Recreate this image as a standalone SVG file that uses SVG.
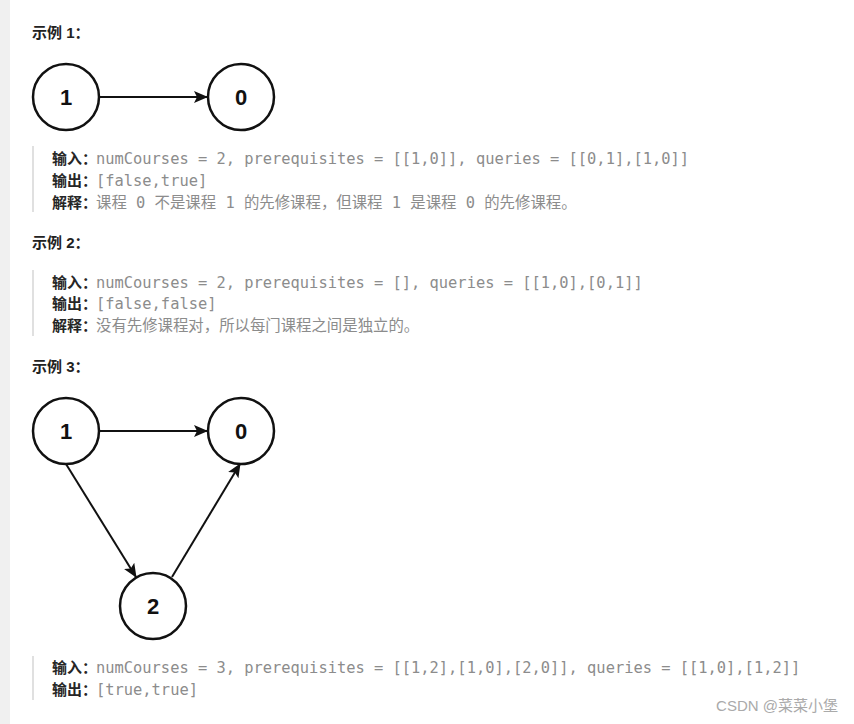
<svg xmlns="http://www.w3.org/2000/svg" width="854" height="724" viewBox="0 0 854 724">
<style>
.h{font:bold 15px "Liberation Sans","Noto Sans CJK SC",sans-serif;fill:#222}
.l{font:bold 15px "Liberation Sans","Noto Sans CJK SC",sans-serif;fill:#262626}
.m{font:15.4px "DejaVu Sans Mono","Noto Sans CJK SC",monospace;fill:#8c8c8c}
.n circle{fill:#fff;stroke:#111;stroke-width:2.5}
.n text{font:bold 22px "Liberation Sans",sans-serif;fill:#111;text-anchor:middle}
.bar{fill:#e0e0e0}
.e{stroke:#111;stroke-width:2;fill:none;marker-end:url(#a)}
</style>
<defs><marker id="a" markerWidth="14" markerHeight="12" refX="13" refY="6" orient="auto" markerUnits="userSpaceOnUse"><path d="M0,0 L14,6 L0,12 L3,6 Z" fill="#111"/></marker></defs>
<rect width="854" height="724" fill="#fff"/>
<rect x="0" y="0" width="10" height="724" fill="#f0f0f0"/>
<text class="h" x="32" y="38">示例 1：</text>
<g id="n1a" class="n"><circle cx="66" cy="97" r="33"/><text x="66" y="105">1</text></g>
<g id="n0a" class="n"><circle cx="241" cy="97" r="33"/><text x="241" y="105">0</text></g>
<rect class="bar" x="32" y="146" width="2" height="66"/>
<text x="52" y="164"><tspan class="l">输入：</tspan><tspan class="m" x="96">numCourses = 2, prerequisites = [[1,0]], queries = [[0,1],[1,0]]</tspan></text>
<text x="52" y="186"><tspan class="l">输出：</tspan><tspan class="m" x="96">[false,true]</tspan></text>
<text x="52" y="208"><tspan class="l">解释：</tspan><tspan class="m" x="96">课程 0 不是课程 1 的先修课程，但课程 1 是课程 0 的先修课程。</tspan></text>
<text class="h" x="32" y="248">示例 2：</text>
<rect class="bar" x="32" y="270" width="2" height="66"/>
<text x="52" y="288"><tspan class="l">输入：</tspan><tspan class="m" x="96">numCourses = 2, prerequisites = [], queries = [[1,0],[0,1]]</tspan></text>
<text x="52" y="309"><tspan class="l">输出：</tspan><tspan class="m" x="96">[false,false]</tspan></text>
<text x="52" y="331"><tspan class="l">解释：</tspan><tspan class="m" x="96">没有先修课程对，所以每门课程之间是独立的。</tspan></text>
<text class="h" x="32" y="372">示例 3：</text>
<g id="n1b" class="n"><circle cx="66" cy="431" r="33"/><text x="66" y="439">1</text></g>
<g id="n0b" class="n"><circle cx="241" cy="431" r="33"/><text x="241" y="439">0</text></g>
<g id="n2b" class="n"><circle cx="153" cy="606" r="33"/><text x="153" y="614">2</text></g>
<g id="edges">
<line class="e" x1="99" y1="97" x2="207" y2="97"/>
<line class="e" x1="99" y1="431" x2="207" y2="431"/>
<line class="e" x1="66" y1="464" x2="136" y2="577"/>
<line class="e" x1="172" y1="577" x2="240" y2="464"/>
</g>
<rect class="bar" x="32" y="656" width="2" height="44"/>
<text x="52" y="673"><tspan class="l">输入：</tspan><tspan class="m" x="96">numCourses = 3, prerequisites = [[1,2],[1,0],[2,0]], queries = [[1,0],[1,2]]</tspan></text>
<text x="52" y="695"><tspan class="l">输出：</tspan><tspan class="m" x="96">[true,true]</tspan></text>
<text x="838" y="711" text-anchor="end" style="font:15px 'Liberation Sans','Noto Sans CJK SC',sans-serif;fill:#aaa">CSDN @菜菜小堡</text>
</svg>
